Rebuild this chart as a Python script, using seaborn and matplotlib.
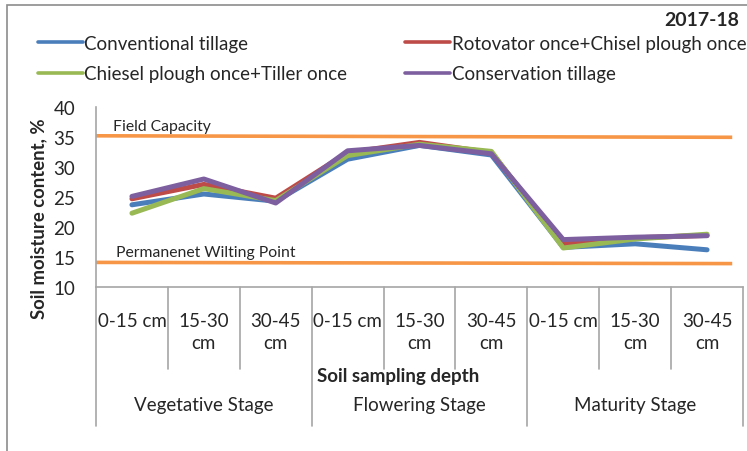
import numpy as np
import pandas as pd
import matplotlib
matplotlib.use("Agg")
import matplotlib.pyplot as plt
import matplotlib.transforms as mtransforms
from matplotlib.patches import Rectangle
import seaborn as sns

# ---------------- data ----------------
depths = ["0-15 cm", "15-30\ncm", "30-45\ncm", "0-15 cm", "15-30\ncm", "30-45\ncm",
          "0-15 cm", "15-30\ncm", "30-45\ncm"]
stages = ["Vegetative Stage", "Flowering Stage", "Maturity Stage"]
series_names = ["Conventional tillage", "Rotovator once+Chisel plough once",
                "Chiesel plough once+Tiller once", "Conservation tillage"]
conventional = [23.7, 25.5, 24.3, 31.3, 33.6, 32.0, 16.6, 17.2, 16.2]
rotovator = [24.7, 27.1, 24.8, 32.4, 34.1, 32.4, 17.2, 18.2, 18.6]
chisel = [22.3, 26.4, 24.4, 31.9, 33.8, 32.6, 16.5, 18.0, 18.8]
conservation = [25.1, 28.0, 24.0, 32.7, 33.6, 32.2, 17.9, 18.3, 18.55]
field_capacity_x = [-0.5, 8.35]
field_capacity_y = [35.2, 34.95]
wilting_point_x = [-0.5, 8.35]
wilting_point_y = [14.1, 13.9]
yticks = [10, 15, 20, 25, 30, 35, 40]

colors = ["#4A7EBB", "#BE4B48", "#98B954", "#7D5FA0"]
orange = "#F79646"
grey = "#A6A6A6"

rows = []
for name, vals in zip(series_names, [conventional, rotovator, chisel, conservation]):
    for i, v in enumerate(vals):
        rows.append({"pos": i, "value": v, "series": name})
df = pd.DataFrame(rows)

sns.set_style("white")
plt.rcParams["font.family"] = ["Lato", "DejaVu Sans"]

FS = 13.5
W, H = 747, 452
fig = plt.figure(figsize=(W / 100, H / 100), dpi=100)
ax_l, ax_r, ax_t, ax_b = 96, 743, 108, 288
ax = fig.add_axes([ax_l / W, 1 - ax_b / H, (ax_r - ax_l) / W, (ax_b - ax_t) / H])

# reference lines
ax.plot(field_capacity_x, field_capacity_y, color=orange, lw=2.6, solid_capstyle="butt", zorder=1)
ax.plot(wilting_point_x, wilting_point_y, color=orange, lw=2.6, solid_capstyle="butt", zorder=1)

sns.lineplot(data=df, x="pos", y="value", hue="series", hue_order=series_names,
             palette=colors, linewidth=3.6, ax=ax, legend=False, zorder=3)
for ln in ax.get_lines()[2:]:
    ln.set_solid_capstyle("round")
    ln.set_solid_joinstyle("round")

ax.set_xlim(-0.5, 8.5)
ax.set_ylim(10, 40)
ax.set_yticks(yticks)
ax.tick_params(axis="y", labelsize=FS, length=5, width=1, color=grey, direction="out", pad=10)
ax.set_xticks([])
ax.set_xlabel("")
ax.set_ylabel("")
for s in ["top", "right"]:
    ax.spines[s].set_visible(False)
for s in ["left", "bottom"]:
    ax.spines[s].set_color(grey)
    ax.spines[s].set_linewidth(1.2)

ax.text(-0.27, 35.7, "Field Capacity", fontsize=11.3, va="bottom", ha="left")
ax.text(-0.22, 14.7, "Permanenet Wilting Point", fontsize=11.3, va="bottom", ha="left")

# category axis
trans = mtransforms.blended_transform_factory(ax.transData, ax.transAxes)
ah = ax_b - ax_t
sub_end = -(370 - ax_b) / ah
stage_end = -(427 - ax_b) / ah
for xb in [0.5, 1.5, 3.5, 4.5, 6.5, 7.5]:
    ax.plot([xb, xb], [0, sub_end], color=grey, lw=1.2, transform=trans, clip_on=False)
for xb in [-0.5, 2.5, 5.5, 8.5]:
    ax.plot([xb, xb], [0, stage_end], color=grey, lw=1.2, transform=trans, clip_on=False)
for i, lab in enumerate(depths):
    ax.text(i, -(313 - ax_b) / ah, lab, transform=trans, ha="center", va="top",
            fontsize=FS, linespacing=1.38)
for j, st in enumerate(stages):
    ax.text(3 * j + 1, -(406 - ax_b) / ah, st, transform=trans, ha="center", va="center",
            fontsize=FS)
fig.text(398 / W, 1 - 377 / H, "Soil sampling depth", ha="center", va="center",
         fontsize=13.5, fontweight="bold")
fig.text(39 / W, 1 - 219 / H, "Soil moisture content, %", ha="center", va="center",
         rotation=90, fontsize=13.3, fontweight="bold")
fig.text(739 / W, 1 - 20 / H, "2017-18", ha="right", va="center", fontsize=14,
         fontweight="bold")

# legend: two columns placed separately
handles = ax.get_lines()[2:]
cols = [([0, 2], 38), ([1, 3], 405)]
for idx, x0 in cols:
    leg = fig.legend([handles[k] for k in idx], [series_names[k] for k in idx],
                     loc="upper left", bbox_to_anchor=(x0 / W, 1 - 36 / H),
                     frameon=False, fontsize=FS, handlelength=2.4, handletextpad=0.08,
                     labelspacing=0.7, borderaxespad=0, borderpad=0)
    for lh in leg.get_lines():
        lh.set_linewidth(2.6)

# outer chart border
fig.add_artist(Rectangle((7 / W, -0.1), 1.2, 1 - 6 / H + 0.1, transform=fig.transFigure,
                         fill=False, edgecolor="#8C8C8C", lw=1.2))

fig.savefig("out.png", dpi=100)
